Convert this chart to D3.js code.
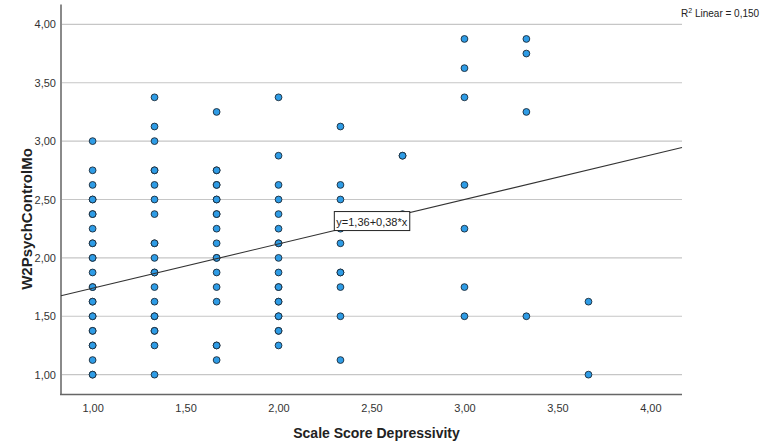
<!DOCTYPE html>
<html>
<head>
<meta charset="utf-8">
<script src="https://cdn.jsdelivr.net/npm/d3@7"></script>
<style>
  html, body { margin: 0; padding: 0; background: #fff; }
  svg { display: block; font-family: "Liberation Sans", Arial, sans-serif; }
</style>
</head>
<body>
<svg id="chart" width="760" height="447"></svg>
<script>
// Depressivity score levels (x) and the W2PsychControlMo values observed at each level.
// Repeated values mark overlapping cases.
const depressivityLevels = [1.0, 1.333, 1.667, 2.0, 2.333, 2.667, 3.0, 3.333, 3.667];
const controlAt100 = [3.0, 2.75, 2.625, 2.5, 2.5, 2.375, 2.375, 2.25, 2.125, 2.125, 2.0, 2.0, 1.875, 1.75, 1.75, 1.625, 1.625, 1.5, 1.5, 1.375, 1.375, 1.25, 1.25, 1.125, 1.0, 1.0];
const controlAt133 = [3.375, 3.125, 3.0, 2.75, 2.75, 2.625, 2.5, 2.375, 2.125, 2.125, 2.0, 1.875, 1.875, 1.75, 1.625, 1.5, 1.5, 1.375, 1.375, 1.25, 1.0];
const controlAt167 = [3.25, 2.75, 2.75, 2.625, 2.625, 2.5, 2.5, 2.375, 2.375, 2.25, 2.125, 2.0, 2.0, 1.875, 1.75, 1.625, 1.25, 1.25, 1.125];
const controlAt200 = [3.375, 2.875, 2.625, 2.5, 2.375, 2.25, 2.125, 2.125, 2.0, 1.875, 1.75, 1.75, 1.625, 1.625, 1.5, 1.5, 1.375, 1.375, 1.25];
const controlAt233 = [3.125, 2.625, 2.5, 2.25, 2.125, 1.875, 1.875, 1.75, 1.5, 1.125];
const controlAt267 = [2.875, 2.875, 2.375];
const controlAt300 = [3.875, 3.625, 3.375, 2.625, 2.25, 1.75, 1.5];
const controlAt333 = [3.875, 3.75, 3.25, 1.5];
const controlAt367 = [1.625, 1.0];
const controlByLevel = [controlAt100, controlAt133, controlAt167, controlAt200, controlAt233, controlAt267, controlAt300, controlAt333, controlAt367];

const tickValues = [1.0, 1.5, 2.0, 2.5, 3.0, 3.5, 4.0];
const fitIntercept = 1.36;
const fitSlope = 0.38;
const rSquared = 0.150;
const xTitle = "Scale Score Depressivity";
const yTitle = "W2PsychControlMo";

const points = [];
depressivityLevels.forEach((x, i) => controlByLevel[i].forEach(y => points.push({ x, y })));

const fmt = v => d3.format(".2f")(v).replace(".", ",");
const fmt3 = v => d3.format(".3f")(v).replace(".", ",");

const svg = d3.select("#chart");
const plot = { left: 61, right: 682, top: 4.5, bottom: 394.5 };

const x = d3.scaleLinear().domain([0.83, 4.17]).range([plot.left, plot.right]);
const y = d3.scaleLinear().domain([0.83, 4.17]).range([plot.bottom, plot.top]);

// horizontal grid lines at each major tick
svg.append("g")
  .selectAll("line")
  .data(tickValues)
  .join("line")
  .attr("x1", plot.left).attr("x2", plot.right)
  .attr("y1", d => y(d)).attr("y2", d => y(d))
  .attr("stroke", "#c6c6c6").attr("stroke-width", 1.2);

// y axis
const yAxis = svg.append("g")
  .attr("transform", `translate(${plot.left},0)`)
  .call(d3.axisLeft(y).tickValues(tickValues).tickFormat(fmt).tickSize(0).tickPadding(5));
yAxis.select(".domain").attr("stroke", "#8a8a8a").attr("stroke-width", 2)
  .attr("d", `M0,${plot.top}V${plot.bottom}`);
yAxis.selectAll("text").attr("font-size", 11).attr("fill", "#333")
  .attr("font-family", "'Liberation Sans', Arial, sans-serif");

// x axis
const xAxis = svg.append("g")
  .attr("transform", `translate(0,${plot.bottom})`)
  .call(d3.axisBottom(x).tickValues(tickValues).tickFormat(fmt).tickSize(0).tickPadding(10));
xAxis.select(".domain").attr("stroke", "#666").attr("stroke-width", 1.5)
  .attr("d", `M${plot.left - 1},0H${plot.right}`);
xAxis.selectAll("text").attr("font-size", 11).attr("fill", "#333")
  .attr("font-family", "'Liberation Sans', Arial, sans-serif");

// axis titles
svg.append("text")
  .attr("x", (plot.left + plot.right) / 2 + 5).attr("y", 438)
  .attr("text-anchor", "middle")
  .attr("font-size", 14).attr("font-weight", "bold").attr("fill", "#222")
  .text(xTitle);

svg.append("text")
  .attr("transform", `translate(32,219) rotate(-90)`)
  .attr("text-anchor", "middle")
  .attr("font-size", 15).attr("font-weight", "bold").attr("fill", "#222")
  .text(yTitle);

// data points
svg.append("g")
  .selectAll("circle")
  .data(points)
  .join("circle")
  .attr("cx", d => x(d.x)).attr("cy", d => y(d.y))
  .attr("r", 3.4)
  .attr("fill", "#2e9ce6")
  .attr("stroke", "#1c2a38").attr("stroke-width", 0.9);

// linear fit line across the full x range
const [x0, x1] = x.domain();
svg.append("line")
  .attr("x1", x(x0)).attr("y1", y(fitIntercept + fitSlope * x0))
  .attr("x2", x(x1)).attr("y2", y(fitIntercept + fitSlope * x1))
  .attr("stroke", "#333").attr("stroke-width", 1.1);

// equation label sitting on the fit line
const labelX = 2.3;
const eq = svg.append("g")
  .attr("transform", `translate(${x(labelX)},${y(fitIntercept + fitSlope * labelX)})`);
const eqText = eq.append("text")
  .attr("x", 2).attr("y", -5)
  .attr("font-size", 11).attr("fill", "#222")
  .text(`y=${fmt(fitIntercept)}+${fmt(fitSlope)}*x`);
const bb = eqText.node().getBBox();
eq.insert("rect", "text")
  .attr("x", 0).attr("y", -19)
  .attr("width", bb.width + 4).attr("height", 19)
  .attr("fill", "#fff").attr("stroke", "#222").attr("stroke-width", 1);

// R squared note
const r2 = svg.append("text")
  .attr("x", 681).attr("y", 17)
  .attr("font-size", 10).attr("fill", "#222");
r2.append("tspan").text("R");
r2.append("tspan").attr("dy", -4).attr("font-size", 7).text("2");
r2.append("tspan").attr("dy", 4).text(` Linear = ${fmt3(rSquared)}`);
</script>
</body>
</html>
